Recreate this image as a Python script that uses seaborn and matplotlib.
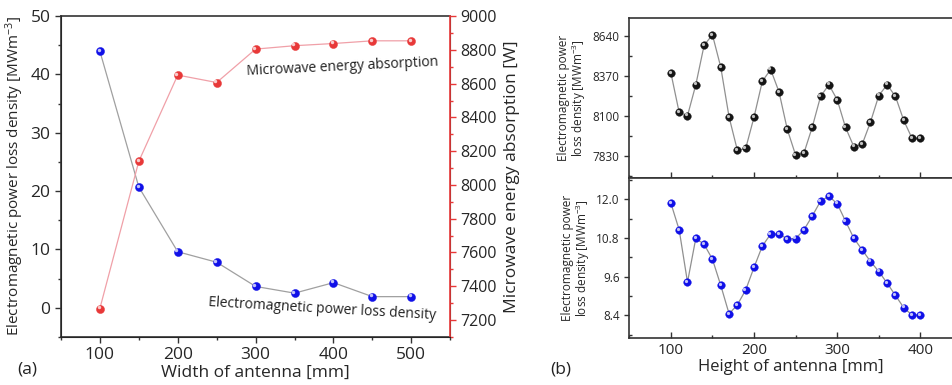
import matplotlib
matplotlib.use("Agg")
import matplotlib.pyplot as plt
import matplotlib.transforms as mtransforms
from matplotlib.ticker import MultipleLocator
import numpy as np
import pandas as pd
import seaborn as sns

# panel (a): width sweep
width_mm = [100, 150, 200, 250, 300, 350, 400, 450, 500]
loss_density_a = [44.0, 20.7, 9.6, 7.8, 3.65, 2.5, 4.3, 1.9, 1.9]
absorption_w = [7268, 8140, 8651, 8607, 8805, 8825, 8838, 8854, 8854]

# panel (b): height sweep
height_mm = list(range(100, 401, 10))
loss_top = [8392, 8123, 8101, 8311, 8579, 8649, 8430, 8092, 7866, 7880,
            8092, 8335, 8414, 8263, 8008, 7834, 7848, 8024, 8232, 8311,
            8209, 8022, 7891, 7907, 8058, 8238, 8311, 8232, 8069, 7947, 7947]
loss_bottom = [11.88, 11.05, 9.43, 10.79, 10.60, 10.14, 9.33, 8.45, 8.73, 9.19,
               9.89, 10.55, 10.92, 10.92, 10.77, 10.78, 11.05, 11.48, 11.94, 12.09,
               11.86, 11.32, 10.79, 10.43, 10.07, 9.76, 9.40, 9.02, 8.64, 8.41, 8.41]

sns.set_style("ticks")
plt.rcParams['font.family'] = ['Open Sans', 'DejaVu Sans']
plt.rcParams['mathtext.default'] = 'regular'

df_a = pd.DataFrame({'w': width_mm, 'loss': loss_density_a, 'abs': absorption_w})
df_b = pd.DataFrame({'h': height_mm, 'top': loss_top, 'bot': loss_bottom})

fig = plt.figure(figsize=(9.52, 3.85), dpi=100)
ax = fig.add_axes([0.064, 0.125, 0.409, 0.833])
ax2 = ax.twinx()


def spheres(axis, x, y, color, size):
    # ball markers with a small highlight
    sns.scatterplot(x=x, y=y, ax=axis, color=color, s=size, edgecolor=color,
                    linewidth=0.3, zorder=3, legend=False)
    hl = mtransforms.offset_copy(axis.transData, fig=fig, x=-0.9, y=0.9, units='points')
    axis.scatter(x, y, s=size * 0.18, color='white', alpha=0.75, lw=0,
                 zorder=4, transform=hl)


sns.lineplot(data=df_a, x='w', y='loss', ax=ax, color='#a0a0a0', lw=0.9, zorder=2)
spheres(ax, df_a['w'], df_a['loss'], '#1010e8', 34)
sns.lineplot(data=df_a, x='w', y='abs', ax=ax2, color='#f0a0a8', lw=0.9, zorder=2)
spheres(ax2, df_a['w'], df_a['abs'], '#e83838', 34)

ax.set_xlim(50, 550)
ax.set_ylim(-5, 50)
ax2.set_ylim(7100, 9000)
ax.xaxis.set_major_locator(MultipleLocator(100))
ax.xaxis.set_minor_locator(MultipleLocator(50))
ax.yaxis.set_major_locator(MultipleLocator(10))
ax.yaxis.set_minor_locator(MultipleLocator(5))
ax2.yaxis.set_major_locator(MultipleLocator(200))
ax2.yaxis.set_minor_locator(MultipleLocator(100))

ax.tick_params(which='major', length=4, width=1, labelsize=12.5, color='#333333')
ax.tick_params(which='minor', length=2.5, width=1, color='#333333')
ax2.tick_params(which='major', length=4, width=1, labelsize=11.5, color='#e83838')
ax2.tick_params(which='minor', length=2.5, width=1, color='#e83838')
for s in ['left', 'bottom', 'top']:
    ax.spines[s].set_color('#333333')
    ax.spines[s].set_linewidth(1.2)
ax2.spines['right'].set_color('#e83838')
ax2.spines['right'].set_linewidth(1.2)
ax2.spines['top'].set_visible(False)

ax.set_xlabel('Width of antenna [mm]', fontsize=12.5, labelpad=1)
ax.set_ylabel('Electromagnetic power loss density [MWm$^{-3}$]', fontsize=11, labelpad=3)
ax2.set_ylabel('Microwave energy absorption [W]', fontsize=12.5, labelpad=5)

ax.text(412, 41.3, 'Microwave energy absorption', fontsize=10, ha='center',
        va='center', rotation=2.8, color='#222222')
ax.text(385, -0.2, 'Electromagnetic power loss density', fontsize=10, ha='center',
        va='center', rotation=-3.3, color='#222222')
fig.text(0.018, 0.03, '(a)', fontsize=12.5, color='#222222')

# panel (b)
bt = fig.add_axes([0.661, 0.538, 0.339, 0.416])
bb = fig.add_axes([0.661, 0.122, 0.339, 0.416], sharex=bt)

sns.lineplot(data=df_b, x='h', y='top', ax=bt, color='#909090', lw=0.9, zorder=2)
spheres(bt, df_b['h'], df_b['top'], '#151515', 30)
sns.lineplot(data=df_b, x='h', y='bot', ax=bb, color='#909090', lw=0.9, zorder=2)
spheres(bb, df_b['h'], df_b['bot'], '#1010e8', 30)

bt.set_xlim(50, 438)
bt.set_ylim(7680, 8765)
bb.set_ylim(7.7, 12.66)
bt.set_yticks([7830, 8100, 8370, 8640])
bt.yaxis.set_minor_locator(MultipleLocator(135))
bb.set_yticks([8.4, 9.6, 10.8, 12.0])
bb.set_yticklabels(['8.4', '9.6', '10.8', '12.0'])
bb.yaxis.set_minor_locator(MultipleLocator(0.6))
bb.xaxis.set_major_locator(MultipleLocator(100))
bb.xaxis.set_minor_locator(MultipleLocator(50))

for a in (bt, bb):
    a.tick_params(axis='y', which='major', direction='out', length=3.5, width=1,
                  labelsize=8.5, color='#333333')
    a.tick_params(axis='y', which='minor', direction='in', length=2.5, width=1, color='#333333')
    a.tick_params(axis='x', which='major', direction='in', length=4, width=1, color='#333333')
    a.tick_params(axis='x', which='minor', direction='in', length=2.5, width=1, color='#333333')
    a.spines['right'].set_visible(False)
    for s in ['left', 'bottom', 'top']:
        a.spines[s].set_color('#333333')
        a.spines[s].set_linewidth(1.2)
    a.set_ylabel('Electromagnetic power\nloss density [MWm$^{-3}$]', fontsize=8.5,
                 labelpad=3, linespacing=1.0)
bt.tick_params(axis='x', labelbottom=False)
bt.set_xlabel('')
bb.tick_params(axis='x', labelsize=11)
bb.set_xlabel('Height of antenna [mm]', fontsize=12, labelpad=1)
fig.text(0.578, 0.03, '(b)', fontsize=12.5, color='#222222')

fig.savefig('out.png', dpi=100)
